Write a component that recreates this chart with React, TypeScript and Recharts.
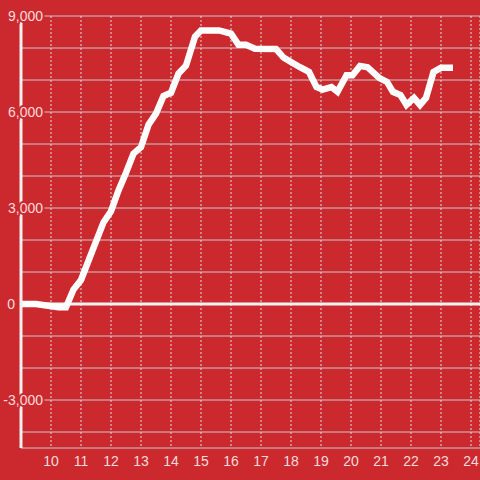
import {
  CartesianGrid,
  Line,
  LineChart,
  ReferenceLine,
  XAxis,
  YAxis,
} from "recharts";

// hour of day (decimal) and cumulative value
const hours = [
  9, 9.5, 10.25, 10.5, 10.75, 11.0, 11.25, 11.75, 12.0, 12.25, 12.5, 12.75, 13.0,
  13.25, 13.5, 13.75, 14.0, 14.25, 14.5, 14.8, 15.0, 15.6, 16.0, 16.25, 16.5,
  16.8, 17.5, 17.75, 18.0, 18.3, 18.6, 18.85, 19.05, 19.35, 19.55, 19.85, 20.05,
  20.3, 20.55, 20.95, 21.2, 21.4, 21.65, 21.85, 22.1, 22.3, 22.5, 22.75, 23.0,
  23.4,
];
const values = [
  0, 0, -100, -100, 450, 750, 1350, 2550, 2900, 3550, 4100, 4700, 4900, 5600,
  5950, 6500, 6600, 7200, 7450, 8350, 8550, 8550, 8450, 8100, 8100, 7980, 7970,
  7700, 7560, 7400, 7250, 6780, 6700, 6780, 6630, 7150, 7150, 7440, 7400, 7060,
  6940, 6630, 6530, 6220, 6440, 6220, 6440, 7250, 7380, 7380,
];

const xTicks = [10, 11, 12, 13, 14, 15, 16, 17, 18, 19, 20, 21, 22, 23, 24];
const yTicks = [-4000, -3000, -2000, -1000, 0, 1000, 2000, 3000, 4000, 5000, 6000, 7000, 8000, 9000];

const data = hours.map((h, i) => ({ hour: h, value: values[i] }));

const BG = "#cc292e";
const TEXT = "#f4dcdc";
const FONT = "'Liberation Sans', Arial, sans-serif";

function YTick(props: any) {
  const { y, payload } = props;
  if (payload.value % 3000 !== 0) return null;
  // the zero label sits left of the axis line in the original
  const right = payload.value === 0 ? 15 : 43;
  return (
    <text
      x={right}
      y={y}
      dy="0.35em"
      textAnchor="end"
      fontSize={14}
      fontFamily={FONT}
      fill={TEXT}
      stroke={BG}
      strokeWidth={4}
      strokeLinejoin="round"
      paintOrder="stroke"
    >
      {payload.value.toLocaleString("en-US")}
    </text>
  );
}

export default function App() {
  return (
    <div
      style={{
        position: "absolute",
        left: 0,
        top: 0,
        width: 480,
        height: 480,
        background: BG,
      }}
    >
      <LineChart
        width={480}
        height={480}
        data={data}
        margin={{ top: 16, right: 0, left: 0, bottom: 0 }}
      >
        <CartesianGrid horizontal vertical={false} stroke="#c9c9c9" />
        <CartesianGrid
          horizontal={false}
          vertical
          stroke="#dcdcdc"
          strokeDasharray="2 2"
        />
        <XAxis
          dataKey="hour"
          type="number"
          domain={[9, 24.3]}
          ticks={xTicks}
          interval={0}
          allowDataOverflow
          axisLine={false}
          tickLine={false}
          height={32}
          tick={{ fontSize: 14, fill: TEXT, fontFamily: FONT }}
        />
        <YAxis
          type="number"
          domain={[-4500, 9000]}
          ticks={yTicks}
          interval={0}
          allowDataOverflow
          width={21}
          tickLine={false}
          axisLine={{ stroke: "#f0f0f0", strokeWidth: 3 }}
          tick={<YTick />}
        />
        <ReferenceLine y={0} stroke="#f3f3f3" strokeWidth={3} />
        <Line
          type="linear"
          dataKey="value"
          stroke="#ffffff"
          strokeWidth={6.5}
          dot={false}
          activeDot={false}
          isAnimationActive={false}
        />
      </LineChart>
    </div>
  );
}
